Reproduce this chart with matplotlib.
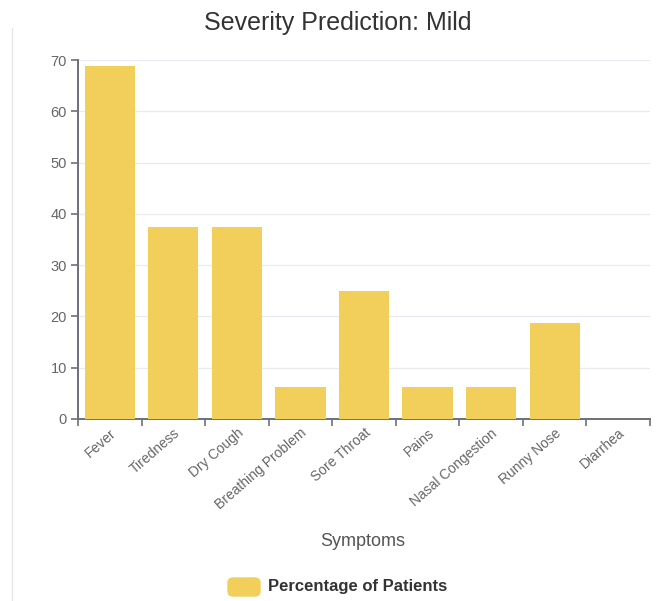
import numpy as np
import matplotlib.pyplot as plt
from matplotlib.lines import Line2D
from matplotlib.patches import FancyBboxPatch

plt.rcParams['font.family'] = ['Liberation Sans', 'DejaVu Sans']

# доля пациентов с каждым симптомом (%)
symptoms = ['Fever', 'Tiredness', 'Dry Cough', 'Breathing Problem', 'Sore Throat',
            'Pains', 'Nasal Congestion', 'Runny Nose', 'Diarrhea']
percent = [68.75, 37.5, 37.5, 6.25, 25.0, 6.25, 6.25, 18.75, 0.0]
y_ticks = [0, 10, 20, 30, 40, 50, 60, 70]

bar_color = '#f2cf5b'
axis_color = '#6e7079'
label_color = '#666666'

fig = plt.figure(figsize=(6.57, 6.01), dpi=100)
ax = fig.add_axes([78 / 657, 1 - 419 / 601, (650 - 78) / 657, (419 - 60) / 601])

x = np.arange(len(symptoms))
ax.bar(x, percent, width=0.79, color=bar_color, zorder=3)

ax.set_xlim(-0.5, len(symptoms) - 0.5)
ax.set_ylim(0, 70)
ax.set_yticks(y_ticks)
ax.set_yticklabels([str(v) for v in y_ticks])
ax.grid(axis='y', color='#e8ebf1', linewidth=1, zorder=0)

# границы категорий - основные деления, подписи - в центрах
ax.set_xticks(np.arange(len(symptoms) + 1) - 0.5)
ax.set_xticklabels([])
ax.set_xticks(x, minor=True)
ax.set_xticklabels(symptoms, minor=True, rotation=41, ha='right',
                   rotation_mode='anchor', fontsize=10, color=label_color)
ax.tick_params(axis='x', which='minor', length=0, pad=5)
ax.tick_params(axis='x', which='major', length=5, width=1.2, color=axis_color)
ax.tick_params(axis='y', length=5, width=1.2, color=axis_color,
               labelsize=10.5, labelcolor=label_color, pad=3)

for side in ['top', 'right']:
    ax.spines[side].set_visible(False)
for side in ['left', 'bottom']:
    ax.spines[side].set_color(axis_color)
    ax.spines[side].set_linewidth(1.4)

fig.text(338 / 657, 1 - 23 / 601, 'Severity Prediction: Mild', ha='center', va='center',
         fontsize=18, color='#333333')
fig.text(363 / 657, 1 - 541 / 601, 'Symptoms', ha='center', va='center',
         fontsize=13, color='#555555')

# легенда
fig.add_artist(FancyBboxPatch((228 / 657, 1 - 596 / 601), 32 / 657, 18 / 601,
                              boxstyle='round,pad=0,rounding_size=0.008',
                              transform=fig.transFigure, color=bar_color))
fig.text(268 / 657, 1 - 587 / 601, 'Percentage of Patients', ha='left', va='center',
         fontsize=12, fontweight='bold', color='#333333')

# тонкая рамка карточки слева
fig.add_artist(Line2D([12 / 657, 12 / 657], [0, 1 - 28 / 601],
                      transform=fig.transFigure, color='#e6e6e6', linewidth=1))

fig.savefig('out.png', dpi=100)
